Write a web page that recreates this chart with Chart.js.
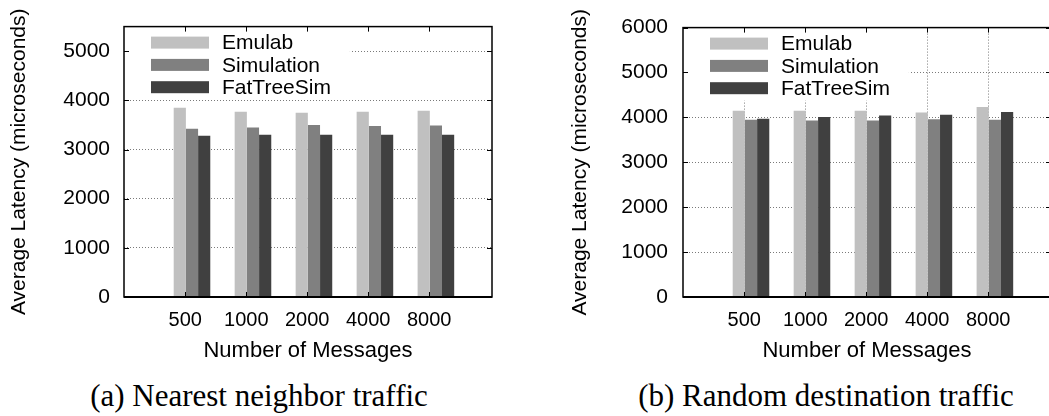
<!DOCTYPE html>
<html>
<head>
<meta charset="utf-8">
<script src="https://cdn.jsdelivr.net/npm/chart.js@4.4.0/dist/chart.umd.min.js"></script>
<style>
  html, body { margin: 0; padding: 0; background: #fff; }
  body { width: 1049px; height: 416px; overflow: hidden; position: relative; }
  canvas { position: absolute; top: 0; }
  #nearest { left: 0; }
  #random { left: 540px; }
  .caption {
    position: absolute; top: 377px; width: 600px; text-align: center;
    font-family: 'Liberation Serif', 'Times New Roman', serif; font-size: 31px; color: #000;
    white-space: nowrap; line-height: 38px;
  }
</style>
</head>
<body>
<canvas id="nearest" width="540" height="370"></canvas>
<canvas id="random" width="520" height="370"></canvas>
<div class="caption" style="left:-41px">(a) Nearest neighbor traffic</div>
<div class="caption" style="left:526px">(b) Random destination traffic</div>
<script>
const msgCounts = ['500', '1000', '2000', '4000', '8000']
const seriesNames = ['Emulab', 'Simulation', 'FatTreeSim']
const seriesColors = ['#c0c0c0', '#808080', '#404040']

// nearest neighbor traffic
const nearEmulab = [3850, 3770, 3750, 3770, 3790]
const nearSimulation = [3420, 3450, 3500, 3480, 3490]
const nearFatTree = [3280, 3300, 3300, 3300, 3300]
const nearTicks = [0, 1000, 2000, 3000, 4000, 5000]

// random destination traffic
const randEmulab = [4150, 4150, 4150, 4110, 4230]
const randSimulation = [3950, 3930, 3930, 3960, 3950]
const randFatTree = [3970, 4010, 4040, 4060, 4120]
const randTicks = [0, 1000, 2000, 3000, 4000, 5000, 6000]

const sans = "'Liberation Sans', Arial, Helvetica, sans-serif"

// gnuplot style box: frame, inward tick marks, key with a white background
const gnuplotFrame = {
  id: 'gnuplotFrame',
  beforeDatasetsDraw(chart) {
    const { ctx, chartArea: a } = chart
    const font = '21px ' + sans
    ctx.save()
    ctx.font = font
    const textW = Math.max(...chart.data.datasets.map(d => ctx.measureText(d.label).width))
    const swX = a.left + 27
    const txX = swX + 71
    ctx.fillStyle = '#fff'
    ctx.fillRect(a.left + 1, a.top + 1, txX + textW + 18 - a.left, 72)
    chart.data.datasets.forEach((d, i) => {
      const cy = a.top + 16 + i * 22.3
      ctx.fillStyle = d.backgroundColor
      ctx.fillRect(swX, cy - 6, 58, 12)
      ctx.fillStyle = '#000'
      ctx.textBaseline = 'middle'
      ctx.fillText(d.label, txX, cy + 1)
    })
    ctx.restore()
  },
  afterDatasetsDraw(chart) {
    const { ctx, chartArea: a, scales: { x, y } } = chart
    ctx.save()
    ctx.strokeStyle = '#000'
    ctx.lineWidth = 1
    ctx.beginPath()
    y.ticks.forEach(t => {
      const py = Math.round(y.getPixelForValue(t.value)) + 0.5
      ctx.moveTo(a.left, py); ctx.lineTo(a.left + 5, py)
      ctx.moveTo(a.right, py); ctx.lineTo(a.right - 5, py)
    })
    x.ticks.forEach(t => {
      const px = Math.round(x.getPixelForValue(t.value)) + 0.5
      ctx.moveTo(px, a.top); ctx.lineTo(px, a.top + 5)
      ctx.moveTo(px, a.bottom); ctx.lineTo(px, a.bottom - 5)
    })
    ctx.stroke()
    ctx.lineWidth = 1.5
    ctx.strokeRect(a.left, a.top, a.right - a.left, a.bottom - a.top)
    ctx.lineWidth = 2
    ctx.beginPath()
    ctx.moveTo(a.left, a.bottom)
    ctx.lineTo(a.right, a.bottom)
    ctx.stroke()
    ctx.restore()
  }
}

function makeChart(id, series, opts) {
  const datasets = series.map((vals, k) => ({
    label: seriesNames[k],
    data: vals.map((v, i) => ({ x: i, y: v })),
    backgroundColor: seriesColors[k],
    borderWidth: 0,
    categoryPercentage: 0.6,
    barPercentage: 1
  }))

  return new Chart(document.getElementById(id), {
    type: 'bar',
    data: { datasets },
    plugins: [gnuplotFrame],
    options: {
      responsive: false,
      animation: false,
      devicePixelRatio: 1,
      layout: { padding: { left: 0, top: 24, right: opts.padRight, bottom: 0 } },
      plugins: { legend: { display: false }, tooltip: { enabled: false } },
      scales: {
        x: {
          type: 'linear',
          min: -1.115,
          max: 4.92,
          offset: false,
          afterBuildTicks: s => { s.ticks = msgCounts.map((c, i) => ({ value: i - 0.11 })) },
          afterFit: s => { s.height = 73 },
          ticks: {
            autoSkip: false,
            maxRotation: 0,
            padding: 11,
            color: '#000',
            font: { family: sans, size: 20 },
            callback: (v, i) => msgCounts[i]
          },
          grid: {
            display: opts.xGrid,
            offset: false,
            drawTicks: false,
            color: '#7a7a7a',
            lineWidth: 1
          },
          border: { display: false, dash: [1, 2] },
          title: {
            display: true,
            text: 'Number of Messages',
            color: '#000',
            font: { family: sans, size: 22 },
            padding: { top: 0, bottom: 6 }
          }
        },
        y: {
          min: 0,
          max: opts.yMax,
          afterBuildTicks: s => { s.ticks = opts.yTicks.map(v => ({ value: v })) },
          afterFit: s => { s.width = opts.yWidth },
          ticks: {
            autoSkip: false,
            padding: opts.yTickPad,
            color: '#000',
            font: { family: sans, size: 21 },
            callback: v => String(v)
          },
          grid: { drawTicks: false, color: '#7a7a7a', lineWidth: 1 },
          border: { display: false, dash: [1, 2] },
          title: {
            display: true,
            text: 'Average Latency (microseconds)',
            color: '#000',
            font: { family: sans, size: 21 },
            padding: { top: opts.yTitlePad, bottom: 0 }
          }
        }
      }
    }
  })
}

makeChart('nearest', [nearEmulab, nearSimulation, nearFatTree],
  { padRight: 48, yMax: 5500, yTicks: nearTicks, yWidth: 124, yTickPad: 14, yTitlePad: 7, xGrid: false })
makeChart('random', [randEmulab, randSimulation, randFatTree],
  { padRight: 9, yMax: 6000, yTicks: randTicks, yWidth: 143, yTickPad: 15, yTitlePad: 28, xGrid: true })
</script>
</body>
</html>
